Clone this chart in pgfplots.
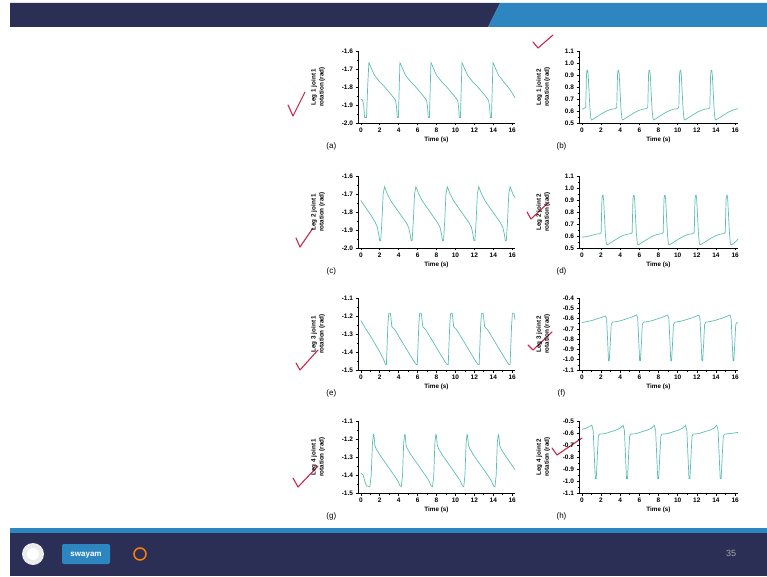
\documentclass[border=0pt]{standalone}
\usepackage{fontspec}
\setmainfont{Liberation Sans}
\usepackage{pgfplots}
\pgfplotsset{compat=1.18}
\definecolor{navy}{RGB}{43,47,86}
\definecolor{slideblue}{RGB}{46,134,193}
\definecolor{trace}{RGB}{95,190,178}
\definecolor{check}{RGB}{200,40,75}
\tikzset{letter/.style={font=\fontsize{8}{9}\selectfont}}
\pgfplotsset{
 panel/.style={
  scale only axis, height=72pt, clip=false,
  xmin=-0.3, xmax=16.3, xtick={0,2,4,6,8,10,12,14,16}, minor x tick num=1,
  minor y tick num=1,
  axis x line=bottom, axis y line=left,
  axis line style={-, line width=0.7pt},
  every tick/.style={black, line width=0.6pt},
  tick align=outside,
  major tick length=2.5pt, minor tick length=1.5pt,
  /pgf/number format/assume math mode=true,
  tick label style={font=\fontsize{6.5}{7}\selectfont\bfseries},
  yticklabel style={/pgf/number format/fixed, /pgf/number format/fixed zerofill, /pgf/number format/precision=1, xshift=1pt},
  xticklabel style={yshift=1pt},
  xlabel={Time (s)},
  xlabel style={font=\fontsize{6.3}{7}\selectfont\bfseries, yshift=3pt},
  ylabel style={font=\fontsize{6.3}{8}\selectfont\bfseries, align=center, at={(axis description cs:-0.255,0.5)}, anchor=center},
 },
 leftcol/.style={panel, width=157pt},
 rightcol/.style={panel, width=159pt, ylabel style={at={(axis description cs:-0.225,0.5)}}},
 tr/.style={trace, line width=0.7pt},
}
\begin{document}
\begin{tikzpicture}[x=1pt,y=1pt]
\useasboundingbox (0,0) rectangle (767,576);
\fill[white] (0,0) rectangle (767,576);
% header
\fill[navy] (10,573) -- (500,573) -- (488,549) -- (10,549) -- cycle;
\fill[slideblue] (500,573) -- (767,573) -- (767,549) -- (488,549) -- cycle;
% footer
\fill[slideblue] (10,43) rectangle (767,48);
\fill[navy] (10,0) rectangle (767,43);
\fill[white!85!gray] (33,22) circle (11);
\fill[white] (33,22) circle (6);
\fill[slideblue, rounded corners=2pt] (62,12) rectangle (110,32);
\node[white, font=\fontsize{8}{9}\selectfont\bfseries] at (86,21) {swayam};
\draw[orange, line width=1.5pt] (140,22) circle (6);
\node[gray!70, font=\fontsize{9}{10}\selectfont] at (731,23) {35};
% checkmarks
\begin{scope}[check, line width=1.1pt, line cap=round, line join=round]
\draw (288,471) -- (293,460) -- (305,484);
\draw (533,534) -- (538,528) -- (553,541);
\draw (296,338) -- (300,329) -- (313,348);
\draw (527,364) -- (531,357) -- (549,374);
\draw (296,213) -- (300,206) -- (318,226);
\draw (528,231) -- (533,226) -- (552,244);
\draw (293,98) -- (298,89) -- (318,110);
\draw (552,128) -- (557,121) -- (582,138);
\end{scope}

% (a)
\begin{axis}[leftcol, at={(358pt,453pt)}, ymin=-2.0, ymax=-1.6, ytick={-2,-1.9,-1.8,-1.7,-1.6}, ylabel={Leg 1 joint 1\\rotation (rad)}]
\addplot[tr] coordinates {
(0,-1.868) (0.18,-1.872) (0.3,-1.90) (0.4,-1.97) (0.6,-1.97) (0.72,-1.80)
(0.85,-1.665) (0.93,-1.672) (1.10,-1.695) (1.45,-1.735) (1.75,-1.755) (2.05,-1.775) (2.45,-1.795) (2.85,-1.82) (3.25,-1.845) (3.55,-1.865) (3.67,-1.875) (3.77,-1.91) (3.85,-1.97) (3.97,-1.97) (4.05,-1.82)
(4.13,-1.665) (4.21,-1.672) (4.38,-1.695) (4.73,-1.735) (5.03,-1.755) (5.33,-1.775) (5.73,-1.795) (6.13,-1.82) (6.53,-1.845) (6.83,-1.865) (6.95,-1.875) (7.05,-1.91) (7.13,-1.97) (7.25,-1.97) (7.33,-1.82)
(7.41,-1.665) (7.49,-1.672) (7.66,-1.695) (8.01,-1.735) (8.31,-1.755) (8.61,-1.775) (9.01,-1.795) (9.41,-1.82) (9.81,-1.845) (10.11,-1.865) (10.23,-1.875) (10.33,-1.91) (10.41,-1.97) (10.53,-1.97) (10.61,-1.82)
(10.69,-1.665) (10.77,-1.672) (10.94,-1.695) (11.29,-1.735) (11.59,-1.755) (11.89,-1.775) (12.29,-1.795) (12.69,-1.82) (13.09,-1.845) (13.39,-1.865) (13.51,-1.875) (13.61,-1.91) (13.69,-1.97) (13.81,-1.97) (13.89,-1.82)
(13.97,-1.665) (14.05,-1.672) (14.22,-1.695) (14.57,-1.735) (14.87,-1.755) (15.17,-1.775) (15.57,-1.80) (15.97,-1.83) (16.3,-1.86)
};
\node[letter] at (axis description cs:-0.17,-0.32) {(a)};
\end{axis}

% (b)
\begin{axis}[rightcol, at={(579pt,453pt)}, ymin=0.5, ymax=1.1, ytick={0.5,0.6,0.7,0.8,0.9,1.0,1.1}, ylabel={Leg 1 joint 2\\rotation (rad)}]
\addplot[tr] coordinates {
(0,0.615) (0.2,0.62) (0.40,0.63) (0.48,0.90) (0.52,0.935) (0.60,0.94) (0.66,0.90) (0.84,0.62) (0.94,0.535) (1.02,0.525) (1.22,0.535) (1.52,0.55) (1.92,0.57) (2.32,0.59) (2.72,0.605) (3.12,0.615) (3.52,0.62)
(3.64,0.63) (3.72,0.90) (3.76,0.935) (3.84,0.94) (3.90,0.90) (4.08,0.62) (4.18,0.535) (4.26,0.525) (4.46,0.535) (4.76,0.55) (5.16,0.57) (5.56,0.59) (5.96,0.605) (6.36,0.615) (6.76,0.62)
(6.88,0.63) (6.96,0.90) (7.00,0.935) (7.08,0.94) (7.14,0.90) (7.32,0.62) (7.42,0.535) (7.50,0.525) (7.70,0.535) (8.00,0.55) (8.40,0.57) (8.80,0.59) (9.20,0.605) (9.60,0.615) (10.00,0.62)
(10.12,0.63) (10.20,0.90) (10.24,0.935) (10.32,0.94) (10.38,0.90) (10.56,0.62) (10.66,0.535) (10.74,0.525) (10.94,0.535) (11.24,0.55) (11.64,0.57) (12.04,0.59) (12.44,0.605) (12.84,0.615) (13.24,0.62)
(13.36,0.63) (13.44,0.90) (13.48,0.935) (13.56,0.94) (13.62,0.90) (13.80,0.62) (13.90,0.535) (13.98,0.525) (14.18,0.535) (14.48,0.55) (14.88,0.57) (15.28,0.59) (15.68,0.605) (16.08,0.615) (16.3,0.62)
};
\node[letter] at (axis description cs:-0.11,-0.32) {(b)};
\end{axis}

% (c)
\begin{axis}[leftcol, at={(358pt,328pt)}, ymin=-2.0, ymax=-1.6, ytick={-2,-1.9,-1.8,-1.7,-1.6}, ylabel={Leg 2 joint 1\\rotation (rad)}]
\addplot[tr] coordinates {
(0,-1.735) (0.3,-1.76) (0.7,-1.79) (1.1,-1.82) (1.5,-1.855) (1.75,-1.885) (1.88,-1.92) (2.0,-1.96) (2.1,-1.96) (2.23,-1.85) (2.36,-1.70)
(2.5,-1.66) (2.58,-1.67) (2.8,-1.70) (3.2,-1.74) (3.6,-1.77) (4.0,-1.80) (4.4,-1.83) (4.8,-1.86) (5.05,-1.885) (5.2,-1.92) (5.32,-1.96) (5.42,-1.96) (5.55,-1.85) (5.68,-1.70)
(5.82,-1.66) (5.90,-1.67) (6.12,-1.70) (6.52,-1.74) (6.92,-1.77) (7.32,-1.80) (7.72,-1.83) (8.12,-1.86) (8.37,-1.885) (8.52,-1.92) (8.64,-1.96) (8.74,-1.96) (8.87,-1.85) (9.0,-1.70)
(9.14,-1.66) (9.22,-1.67) (9.44,-1.70) (9.84,-1.74) (10.24,-1.77) (10.64,-1.80) (11.04,-1.83) (11.44,-1.86) (11.69,-1.885) (11.84,-1.92) (11.96,-1.96) (12.06,-1.96) (12.19,-1.85) (12.32,-1.70)
(12.46,-1.66) (12.54,-1.67) (12.76,-1.70) (13.16,-1.74) (13.56,-1.77) (13.96,-1.80) (14.36,-1.83) (14.76,-1.86) (15.01,-1.885) (15.16,-1.92) (15.28,-1.96) (15.38,-1.96) (15.51,-1.85) (15.64,-1.70)
(15.78,-1.66) (15.86,-1.67) (16.08,-1.70) (16.3,-1.72)
};
\node[letter] at (axis description cs:-0.17,-0.32) {(c)};
\end{axis}

% (d)
\begin{axis}[rightcol, at={(579pt,328pt)}, ymin=0.5, ymax=1.1, ytick={0.5,0.6,0.7,0.8,0.9,1.0,1.1}, ylabel={Leg 2 joint 2\\rotation (rad)}]
\addplot[tr] coordinates {
(0,0.59) (0.5,0.595) (1.0,0.605) (1.5,0.615) (1.9,0.62)
(2.01,0.63) (2.09,0.90) (2.13,0.935) (2.21,0.94) (2.27,0.90) (2.45,0.62) (2.55,0.535) (2.63,0.525) (2.83,0.535) (3.13,0.55) (3.53,0.57) (3.93,0.59) (4.33,0.605) (4.73,0.615) (5.13,0.62)
(5.25,0.63) (5.33,0.90) (5.37,0.935) (5.45,0.94) (5.51,0.90) (5.69,0.62) (5.79,0.535) (5.87,0.525) (6.07,0.535) (6.37,0.55) (6.77,0.57) (7.17,0.59) (7.57,0.605) (7.97,0.615) (8.37,0.62)
(8.49,0.63) (8.57,0.90) (8.61,0.935) (8.69,0.94) (8.75,0.90) (8.93,0.62) (9.03,0.535) (9.11,0.525) (9.31,0.535) (9.61,0.55) (10.01,0.57) (10.41,0.59) (10.81,0.605) (11.21,0.615) (11.61,0.62)
(11.73,0.63) (11.81,0.90) (11.85,0.935) (11.93,0.94) (11.99,0.90) (12.17,0.62) (12.27,0.535) (12.35,0.525) (12.55,0.535) (12.85,0.55) (13.25,0.57) (13.65,0.59) (14.05,0.605) (14.45,0.615) (14.85,0.62)
(14.97,0.63) (15.05,0.90) (15.09,0.935) (15.17,0.94) (15.23,0.90) (15.41,0.62) (15.51,0.535) (15.59,0.525) (15.79,0.535) (16.09,0.555) (16.3,0.575)
};
\node[letter] at (axis description cs:-0.11,-0.32) {(d)};
\end{axis}

% (e)
\begin{axis}[leftcol, at={(358pt,206pt)}, ymin=-1.5, ymax=-1.1, ytick={-1.5,-1.4,-1.3,-1.2,-1.1}, ylabel={Leg 3 joint 1\\rotation (rad)}]
\addplot[tr] coordinates {
(0,-1.225) (0.5,-1.27) (1.0,-1.31) (1.5,-1.355) (2.0,-1.40) (2.4,-1.44) (2.6,-1.47) (2.70,-1.47) (2.86,-1.25) (2.94,-1.19)
(2.98,-1.185) (3.12,-1.185) (3.20,-1.22) (3.28,-1.26) (3.58,-1.275) (3.98,-1.31) (4.38,-1.345) (4.78,-1.38) (5.18,-1.415) (5.53,-1.445) (5.78,-1.465) (5.87,-1.47) (5.97,-1.47) (6.13,-1.25) (6.21,-1.19)
(6.25,-1.185) (6.39,-1.185) (6.47,-1.22) (6.55,-1.26) (6.85,-1.275) (7.25,-1.31) (7.65,-1.345) (8.05,-1.38) (8.45,-1.415) (8.80,-1.445) (9.05,-1.465) (9.14,-1.47) (9.24,-1.47) (9.40,-1.25) (9.48,-1.19)
(9.52,-1.185) (9.66,-1.185) (9.74,-1.22) (9.82,-1.26) (10.12,-1.275) (10.52,-1.31) (10.92,-1.345) (11.32,-1.38) (11.72,-1.415) (12.07,-1.445) (12.32,-1.465) (12.41,-1.47) (12.51,-1.47) (12.67,-1.25) (12.75,-1.19)
(12.79,-1.185) (12.93,-1.185) (13.01,-1.22) (13.09,-1.26) (13.39,-1.275) (13.79,-1.31) (14.19,-1.345) (14.59,-1.38) (14.99,-1.415) (15.34,-1.445) (15.59,-1.465) (15.68,-1.47) (15.78,-1.47) (15.94,-1.25) (16.02,-1.19)
(16.06,-1.185) (16.2,-1.185) (16.3,-1.22)
};
\node[letter] at (axis description cs:-0.17,-0.32) {(e)};
\end{axis}

% (f)
\begin{axis}[rightcol, at={(579pt,206pt)}, ymin=-1.1, ymax=-0.4, ytick={-1.1,-1.0,-0.9,-0.8,-0.7,-0.6,-0.5,-0.4}, ylabel={Leg 3 joint 2\\rotation (rad)}]
\addplot[tr] coordinates {
(0,-0.64) (0.5,-0.63) (1.0,-0.62) (1.5,-0.605) (2.0,-0.59) (2.46,-0.575) (2.58,-0.60) (2.68,-0.80)
(2.78,-1.01) (2.86,-1.01) (2.96,-0.85) (3.06,-0.66) (3.18,-0.635) (3.58,-0.63) (4.08,-0.62) (4.58,-0.605) (5.08,-0.59) (5.48,-0.575) (5.71,-0.565) (5.83,-0.60) (5.93,-0.80)
(6.03,-1.01) (6.11,-1.01) (6.21,-0.85) (6.31,-0.66) (6.43,-0.635) (6.83,-0.63) (7.33,-0.62) (7.83,-0.605) (8.33,-0.59) (8.73,-0.575) (8.96,-0.565) (9.08,-0.60) (9.18,-0.80)
(9.28,-1.01) (9.36,-1.01) (9.46,-0.85) (9.56,-0.66) (9.68,-0.635) (10.08,-0.63) (10.58,-0.62) (11.08,-0.605) (11.58,-0.59) (11.98,-0.575) (12.21,-0.565) (12.33,-0.60) (12.43,-0.80)
(12.53,-1.01) (12.61,-1.01) (12.71,-0.85) (12.81,-0.66) (12.93,-0.635) (13.33,-0.63) (13.83,-0.62) (14.33,-0.605) (14.83,-0.59) (15.23,-0.575) (15.46,-0.565) (15.58,-0.60) (15.68,-0.80)
(15.78,-1.01) (15.86,-1.01) (15.96,-0.85) (16.06,-0.66) (16.15,-0.64) (16.3,-0.645)
};
\node[letter] at (axis description cs:-0.11,-0.32) {(f)};
\end{axis}

% (g)
\begin{axis}[leftcol, at={(358pt,83pt)}, ymin=-1.5, ymax=-1.1, ytick={-1.5,-1.4,-1.3,-1.2,-1.1}, ylabel={Leg 4 joint 1\\rotation (rad)}]
\addplot[tr] coordinates {
(0,-1.39) (0.25,-1.40) (0.45,-1.44) (0.6,-1.46) (0.95,-1.465) (1.1,-1.40) (1.23,-1.22)
(1.33,-1.175) (1.39,-1.18) (1.48,-1.235) (1.63,-1.255) (2.03,-1.29) (2.43,-1.32) (2.83,-1.35) (3.23,-1.38) (3.63,-1.41) (3.93,-1.435) (4.13,-1.46) (4.28,-1.465) (4.41,-1.40) (4.53,-1.22)
(4.63,-1.175) (4.69,-1.18) (4.78,-1.235) (4.93,-1.255) (5.33,-1.29) (5.73,-1.32) (6.13,-1.35) (6.53,-1.38) (6.93,-1.41) (7.23,-1.435) (7.43,-1.46) (7.58,-1.465) (7.71,-1.40) (7.83,-1.22)
(7.93,-1.175) (7.99,-1.18) (8.08,-1.235) (8.23,-1.255) (8.63,-1.29) (9.03,-1.32) (9.43,-1.35) (9.83,-1.38) (10.23,-1.41) (10.53,-1.435) (10.73,-1.46) (10.88,-1.465) (11.01,-1.40) (11.13,-1.22)
(11.23,-1.175) (11.29,-1.18) (11.38,-1.235) (11.53,-1.255) (11.93,-1.29) (12.33,-1.32) (12.73,-1.35) (13.13,-1.38) (13.53,-1.41) (13.83,-1.435) (14.03,-1.46) (14.18,-1.465) (14.31,-1.40) (14.43,-1.22)
(14.53,-1.175) (14.59,-1.18) (14.68,-1.235) (14.83,-1.255) (15.23,-1.29) (15.63,-1.32) (16.03,-1.35) (16.3,-1.37)
};
\node[letter] at (axis description cs:-0.17,-0.32) {(g)};
\end{axis}

% (h)
\begin{axis}[rightcol, at={(579pt,83pt)}, ymin=-1.1, ymax=-0.5, ytick={-1.1,-1.0,-0.9,-0.8,-0.7,-0.6,-0.5}, ylabel={Leg 4 joint 2\\rotation (rad)}]
\addplot[tr] coordinates {
(0,-0.57) (0.4,-0.56) (0.8,-0.545) (1.04,-0.535) (1.18,-0.58) (1.3,-0.80)
(1.4,-0.98) (1.5,-0.98) (1.62,-0.78) (1.72,-0.63) (1.82,-0.61) (2.4,-0.605) (3.0,-0.59) (3.6,-0.575) (4.0,-0.56) (4.3,-0.535) (4.44,-0.58) (4.56,-0.80)
(4.66,-0.98) (4.76,-0.98) (4.88,-0.78) (4.98,-0.63) (5.08,-0.61) (5.66,-0.605) (6.26,-0.59) (6.86,-0.575) (7.26,-0.56) (7.56,-0.535) (7.70,-0.58) (7.82,-0.80)
(7.92,-0.98) (8.02,-0.98) (8.14,-0.78) (8.24,-0.63) (8.34,-0.61) (8.92,-0.605) (9.52,-0.59) (10.12,-0.575) (10.52,-0.56) (10.82,-0.535) (10.96,-0.58) (11.08,-0.80)
(11.18,-0.98) (11.28,-0.98) (11.40,-0.78) (11.50,-0.63) (11.60,-0.61) (12.18,-0.605) (12.78,-0.59) (13.38,-0.575) (13.78,-0.56) (14.08,-0.535) (14.22,-0.58) (14.34,-0.80)
(14.44,-0.98) (14.54,-0.98) (14.66,-0.78) (14.76,-0.63) (14.86,-0.61) (15.44,-0.605) (16.3,-0.595)
};
\node[letter] at (axis description cs:-0.11,-0.32) {(h)};
\end{axis}
\end{tikzpicture}
\end{document}
